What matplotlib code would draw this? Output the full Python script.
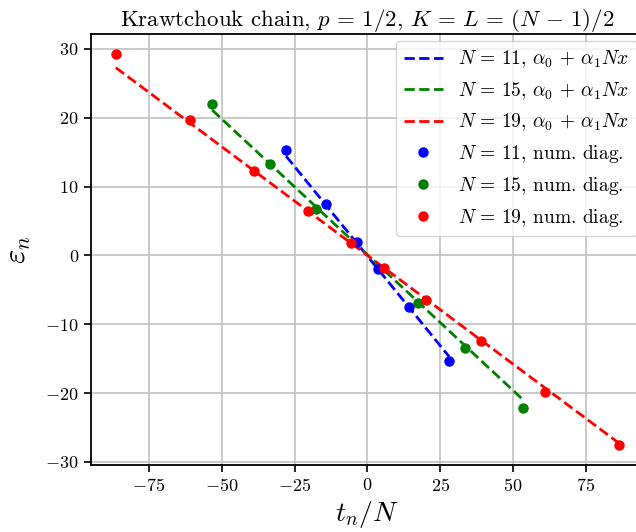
import numpy as np
import matplotlib
matplotlib.use("Agg")
import matplotlib.pyplot as plt

plt.rcParams['font.family'] = 'serif'
plt.rcParams['font.serif'] = ['cmr10']
plt.rcParams['mathtext.fontset'] = 'cm'
plt.rcParams['axes.formatter.use_mathtext'] = True
plt.rcParams['axes.unicode_minus'] = True

# chain sizes and colours
sizes = [11, 15, 19]
colors = ['blue', 'green', 'red']

# t_n/N and eps_n (numerical diagonalisation)
x_11 = [-27.9, -14.2, -3.7, 3.8, 14.2, 28.1]
y_11 = [15.3, 7.4, 1.9, -2.0, -7.5, -15.4]

x_15 = [-53.3, -33.6, -17.5, 17.3, 33.6, 53.3]
y_15 = [22.0, 13.3, 6.8, -6.9, -13.5, -22.1]

x_19 = [-86.4, -61.0, -39.1, -20.3, -5.6, 5.8, 20.1, 39.0, 61.0, 86.4]
y_19 = [29.3, 19.6, 12.3, 6.4, 1.8, -1.9, -6.5, -12.4, -19.8, -27.6]

# linear fit alpha_0 + alpha_1 N x
alpha0 = [-0.1, 0.1, 0.0]
alpha1N = [-0.52, -0.394, -0.3155]

xs = [x_11, x_15, x_19]
ys = [y_11, y_15, y_19]

fig = plt.figure(figsize=(6.36, 5.32), dpi=100)
ax = fig.add_axes([0.1426, 0.126, 0.870, 0.810])

for N, c, x, a0, a1 in zip(sizes, colors, xs, alpha0, alpha1N):
    xx = np.array([min(x), max(x)])
    ax.plot(xx, a0 + a1 * xx, '--', color=c, lw=2,
            label=r'$N\,=\,%d$, $\alpha_0\,+\,\alpha_1 N x$' % N)

for N, c, x, y in zip(sizes, colors, xs, ys):
    ax.plot(x, y, 'o', color=c, ms=6.5, label=r'$N\,=\,%d$, num. diag.' % N)

ax.grid(True, color='#c0c0c0', lw=1.2)
ax.set_xticks([-75, -50, -25, 0, 25, 50, 75])
ax.set_yticks([-30, -20, -10, 0, 10, 20, 30])
ax.tick_params(labelsize=13, width=1.2, length=5)
for s in ax.spines.values():
    s.set_linewidth(1.3)

ax.set_xlabel(r'$t_n/N$', fontsize=20)
ax.set_ylabel(r'$\varepsilon_n$', fontsize=22, labelpad=9)
ax.set_title(r'Krawtchouk chain, $p\,=\,1/2$, $K\,=\,L\,=\,(N\,-\,1)/2$',
             fontsize=16.5)
ax.legend(loc='upper right', fontsize=14, handlelength=2.0,
          borderaxespad=0.35)

fig.savefig('out.png', dpi=100)
